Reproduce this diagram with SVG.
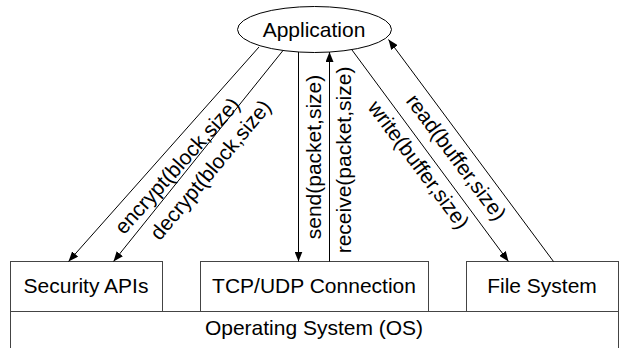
<svg xmlns="http://www.w3.org/2000/svg" width="621" height="348" viewBox="0 0 621 348">
  <style>
    .lbl { font-family: "Liberation Sans", Arial, sans-serif; font-size: 21px; fill: #000; text-anchor: middle; }
    .box { fill: #fff; stroke: #444; stroke-width: 1; }
    .edge { stroke: #000; stroke-width: 1; fill: none; marker-end: url(#arrow); }
  </style>
  <defs>
    <marker id="arrow" viewBox="0 0 10 8" refX="10" refY="4" markerWidth="10" markerHeight="8" markerUnits="userSpaceOnUse" orient="auto">
      <path d="M0,0 L10,4 L0,8 Z" fill="#000"/>
    </marker>
  </defs>
  <rect width="621" height="348" fill="#fff"/>

  <g id="os">
    <rect class="box" x="10.5" y="311.5" width="608" height="40"/>
    <text class="lbl" x="314" y="335">Operating System (OS)</text>
  </g>
  <g id="security">
    <rect class="box" x="10.5" y="261.5" width="152" height="50"/>
    <text class="lbl" x="86" y="293">Security APIs</text>
  </g>
  <g id="tcpudp">
    <rect class="box" x="200.5" y="261.5" width="228" height="50"/>
    <text class="lbl" x="314" y="293">TCP/UDP Connection</text>
  </g>
  <g id="filesystem">
    <rect class="box" x="466.5" y="261.5" width="152" height="50"/>
    <text class="lbl" x="542" y="293">File System</text>
  </g>
  <g id="application">
    <ellipse cx="314.5" cy="29.5" rx="77" ry="23" fill="#fff" stroke="#000" stroke-width="1"/>
    <text class="lbl" x="314" y="37">Application</text>
  </g>

  <g id="connectors">
    <line class="edge" x1="259" y1="47" x2="68.5" y2="261.5"/>
    <line class="edge" x1="283" y1="50.5" x2="113.5" y2="261.5"/>
    <line class="edge" x1="298.5" y1="52" x2="298.5" y2="261.5"/>
    <line class="edge" x1="329.5" y1="261.5" x2="329.5" y2="52"/>
    <line class="edge" x1="352" y1="50" x2="508.5" y2="261.5"/>
    <line class="edge" x1="553.5" y1="261.5" x2="388.5" y2="39.5"/>
    <text class="lbl" transform="translate(182.5,170.5) rotate(-48)">encrypt(block,size)</text>
    <text class="lbl" transform="translate(216,174.5) rotate(-50)">decrypt(block,size)</text>
    <text class="lbl" transform="translate(321,157) rotate(-90)">send(packet,size)</text>
    <text class="lbl" transform="translate(351,160) rotate(-90)">receive(packet,size)</text>
    <text class="lbl" transform="translate(413,169) rotate(53.3)">write(buffer,size)</text>
    <text class="lbl" transform="translate(450.5,161.5) rotate(53.2)">read(buffer,size)</text>
  </g>
</svg>
